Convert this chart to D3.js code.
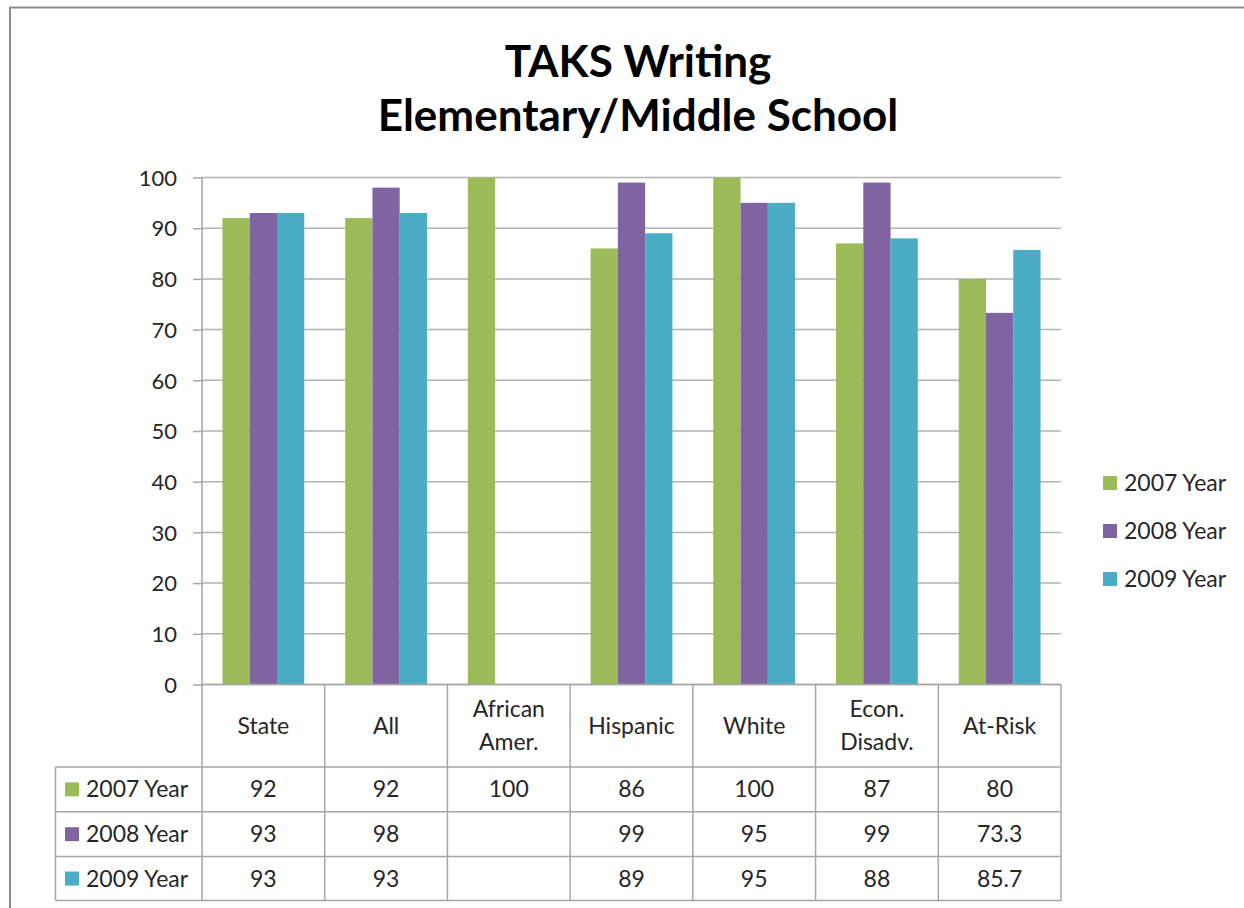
<!DOCTYPE html>
<html><head><meta charset="utf-8">
<script src="https://cdn.jsdelivr.net/npm/d3@7"></script>
<style>
html,body{margin:0;padding:0;background:#fff;}
svg text{font-family:Lato,"Open Sans",sans-serif;fill:#262626;}
</style></head>
<body><svg id="chart" width="1244" height="908"></svg>
<script>
const titleLines = ["TAKS Writing", "Elementary/Middle School"];
const categories = [["State"], ["All"], ["African", "Amer."], ["Hispanic"], ["White"], ["Econ.", "Disadv."], ["At-Risk"]];
const seriesNames = ["2007 Year", "2008 Year", "2009 Year"];
const seriesColors = ["#9BBB59", "#8064A2", "#4BACC6"];
const values2007 = [92, 92, 100, 86, 100, 87, 80];
const values2008 = [93, 98, null, 99, 95, 99, 73.3];
const values2009 = [93, 93, null, 89, 95, 88, 85.7];
const yTicks = [0, 10, 20, 30, 40, 50, 60, 70, 80, 90, 100];

const seriesValues = [values2007, values2008, values2009];
const svg = d3.select("#chart");

// outer frame
svg.append("rect").attr("x", 10).attr("y", 7.5).attr("width", 1250).attr("height", 920)
  .attr("fill", "none").attr("stroke", "#8c8c8c").attr("stroke-width", 2);

// title
svg.append("g").selectAll("text").data(titleLines).join("text")
  .attr("x", 638).attr("y", (d, i) => 77 + i * 54)
  .attr("text-anchor", "middle").style("font-weight", "bold").style("font-size", "44px")
  .style("fill", "#000").text(d => d);

const plotL = 202, plotR = 1061, plotT = 177.5, plotB = 684.5;
const catIdx = categories.map((d, i) => i);
const x0 = d3.scaleBand().domain(catIdx).range([plotL, plotR]).paddingInner(0).paddingOuter(0);
const x1 = d3.scaleBand().domain(seriesNames).range([0, x0.bandwidth()]).paddingInner(0).paddingOuter(0.75);
const y = d3.scaleLinear().domain([0, 100]).range([plotB, plotT]);

// gridlines
svg.append("g").selectAll("line").data(yTicks).join("line")
  .attr("x1", plotL).attr("x2", plotR).attr("y1", d => y(d)).attr("y2", d => y(d))
  .attr("stroke", "#b3b3b3").attr("stroke-width", 1.5);

// bars
const bars = [];
seriesValues.forEach((vals, s) => vals.forEach((v, c) => { if (v != null) bars.push({s, c, v}); }));
svg.append("g").selectAll("rect").data(bars).join("rect")
  .attr("x", d => x0(d.c) + x1(seriesNames[d.s]))
  .attr("width", x1.bandwidth())
  .attr("y", d => y(d.v)).attr("height", d => y(0) - y(d.v))
  .attr("fill", d => seriesColors[d.s]);

// y axis
const yAxis = d3.axisLeft(y).tickValues(yTicks).tickSize(9).tickPadding(16).tickFormat(d3.format("d"));
const ga = svg.append("g").attr("transform", `translate(${plotL},0)`).call(yAxis);
ga.select(".domain").remove();
ga.selectAll(".tick line").attr("stroke", "#a6a6a6").attr("stroke-width", 1.5);
ga.selectAll(".tick text").style("font-size", "22px").style("font-family", "Lato").attr("fill", "#262626").attr("dy", "0.35em");
svg.append("line").attr("x1", plotL).attr("x2", plotL).attr("y1", plotT).attr("y2", plotB)
  .attr("stroke", "#a6a6a6").attr("stroke-width", 1.5);

// data table
const rowTops = [684.5, 767, 811.8, 856.6, 900.5];
const leftColX = 55.5;
const fs = "23px";
const tbl = svg.append("g");
const lineColor = "#a6a6a6";
tbl.append("line").attr("x1", plotL).attr("x2", plotR).attr("y1", rowTops[0]).attr("y2", rowTops[0]).attr("stroke", lineColor).attr("stroke-width", 1.5);
tbl.selectAll("line.h").data(rowTops.slice(1)).join("line").attr("class", "h")
  .attr("x1", leftColX).attr("x2", plotR).attr("y1", d => d).attr("y2", d => d)
  .attr("stroke", lineColor).attr("stroke-width", 1.5);
const vx = catIdx.map(i => x0(i)).concat([plotR]);
tbl.selectAll("line.v").data(vx).join("line").attr("class", "v")
  .attr("x1", d => d).attr("x2", d => d).attr("y1", rowTops[0]).attr("y2", rowTops[4])
  .attr("stroke", lineColor).attr("stroke-width", 1.5);
tbl.append("line").attr("x1", leftColX).attr("x2", leftColX).attr("y1", rowTops[1]).attr("y2", rowTops[4])
  .attr("stroke", lineColor).attr("stroke-width", 1.5);

// header category labels
const hdrMid = (rowTops[0] + rowTops[1]) / 2;
const hdr = tbl.selectAll("text.hdr").data(categories).join("text").attr("class", "hdr")
  .attr("x", (d, i) => x0(i) + x0.bandwidth() / 2)
  .attr("text-anchor", "middle").style("font-size", fs);
hdr.each(function(d) {
  const t = d3.select(this);
  const lh = 33;
  d.forEach((line, k) => {
    t.append("tspan").attr("x", t.attr("x"))
      .attr("y", hdrMid + (k - (d.length - 1) / 2) * lh).attr("dy", "0.35em").text(line);
  });
});

// row labels with legend keys
seriesNames.forEach((name, s) => {
  const mid = (rowTops[s + 1] + rowTops[s + 2]) / 2;
  tbl.append("rect").attr("x", 65).attr("y", mid - 7).attr("width", 14).attr("height", 14).attr("fill", seriesColors[s]);
  tbl.append("text").attr("x", 86).attr("y", mid).attr("dy", "0.35em").style("font-size", fs).text(name);
  tbl.append("g").selectAll("text").data(seriesValues[s]).join("text")
    .attr("x", (d, i) => x0(i) + x0.bandwidth() / 2).attr("y", mid).attr("dy", "0.35em")
    .attr("text-anchor", "middle").style("font-size", fs)
    .text(d => d == null ? "" : d);
});

// legend
const lg = svg.append("g");
seriesNames.forEach((name, s) => {
  const cy = 483 + s * 48;
  lg.append("rect").attr("x", 1103).attr("y", cy - 7).attr("width", 14).attr("height", 14).attr("fill", seriesColors[s]);
  lg.append("text").attr("x", 1124).attr("y", cy).attr("dy", "0.35em").style("font-size", fs).text(name);
});
</script>
</body></html>
